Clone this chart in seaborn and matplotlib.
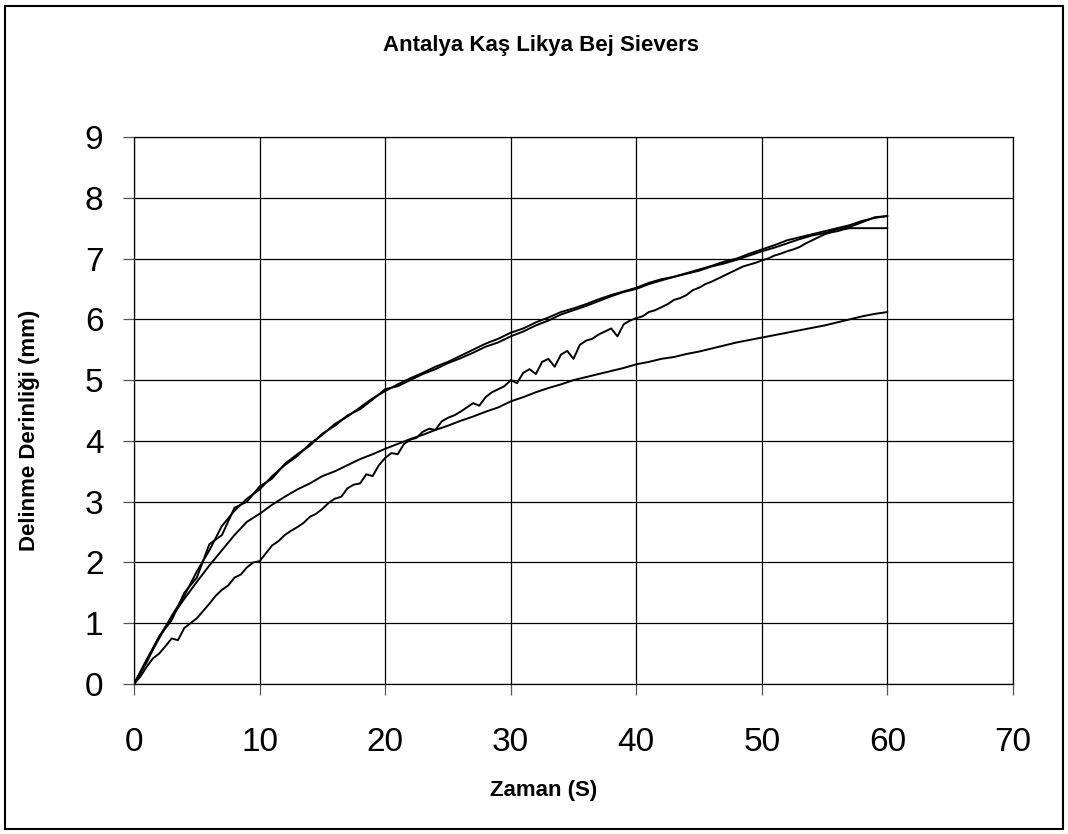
import numpy as np
import pandas as pd
import matplotlib
matplotlib.use("Agg")
import matplotlib.pyplot as plt
import seaborn as sns
from matplotlib.patches import Rectangle

title = "Antalya Kaş Likya Bej Sievers"
x_label = "Zaman (S)"
y_label = "Delinme Derinliği (mm)"
x_ticks = [0, 10, 20, 30, 40, 50, 60, 70]
y_ticks = [0, 1, 2, 3, 4, 5, 6, 7, 8, 9]

# time in seconds, 1 s steps
t_1s = list(range(0, 61))

curve_a = [0.0, 0.38, 0.75, 1.12, 1.45, 1.85, 2.2, 2.6, 2.85, 3.05,
           3.2, 3.42, 3.6, 3.75, 3.95, 4.1, 4.28, 4.4, 4.55, 4.7,
           4.82, 4.93, 5.03, 5.12, 5.22, 5.3, 5.4, 5.5, 5.6, 5.68,
           5.78, 5.85, 5.95, 6.03, 6.12, 6.18, 6.25, 6.33, 6.4, 6.46,
           6.52, 6.6, 6.66, 6.7, 6.76, 6.82, 6.88, 6.95, 7.0, 7.08,
           7.15, 7.22, 7.3, 7.35, 7.4, 7.45, 7.5, 7.55, 7.62, 7.67, 7.7]

curve_b = [0.0, 0.35, 0.78, 1.05, 1.5, 1.75, 2.3, 2.45, 2.9, 3.0,
           3.25, 3.38, 3.62, 3.78, 3.92, 4.12, 4.25, 4.42, 4.52, 4.68,
           4.85, 4.9, 5.0, 5.1, 5.18, 5.28, 5.36, 5.45, 5.55, 5.62,
           5.72, 5.8, 5.9, 5.98, 6.08, 6.15, 6.22, 6.3, 6.38, 6.45,
           6.5, 6.58, 6.64, 6.7, 6.75, 6.8, 6.87, 6.92, 6.98, 7.05,
           7.12, 7.18, 7.25, 7.32, 7.38, 7.42, 7.48, 7.52, 7.6, 7.68, 7.7]

curve_d = [0.0, 0.4, 0.78, 1.1, 1.4, 1.68, 1.95, 2.2, 2.45, 2.67,
           2.8, 2.95, 3.08, 3.2, 3.3, 3.42, 3.5, 3.6, 3.7, 3.78,
           3.87, 3.95, 4.03, 4.1, 4.18, 4.25, 4.33, 4.4, 4.48, 4.55,
           4.65, 4.72, 4.8, 4.87, 4.93, 5.0, 5.05, 5.1, 5.15, 5.2,
           5.26, 5.3, 5.35, 5.38, 5.43, 5.47, 5.52, 5.57, 5.62, 5.66,
           5.7, 5.74, 5.78, 5.82, 5.86, 5.9, 5.95, 6.0, 6.05, 6.09, 6.12]

# jagged curve, 0.5 s steps
t_half = [i * 0.5 for i in range(0, 121)]
curve_c = [0.0, 0.12, 0.28, 0.42, 0.5, 0.62, 0.75, 0.72, 0.92, 1.0,
           1.08, 1.2, 1.32, 1.45, 1.55, 1.62, 1.75, 1.8, 1.92, 2.0,
           2.02, 2.15, 2.28, 2.35, 2.45, 2.52, 2.58, 2.65, 2.75, 2.8,
           2.88, 2.98, 3.05, 3.08, 3.22, 3.28, 3.3, 3.45, 3.42, 3.6,
           3.72, 3.8, 3.78, 3.95, 4.02, 4.05, 4.15, 4.2, 4.18, 4.32,
           4.38, 4.42, 4.48, 4.55, 4.62, 4.58, 4.72, 4.8, 4.85, 4.9,
           5.0, 4.95, 5.12, 5.18, 5.1, 5.3, 5.35, 5.22, 5.42, 5.48,
           5.35, 5.58, 5.65, 5.68, 5.75, 5.8, 5.85, 5.72, 5.92, 5.98,
           6.02, 6.05, 6.12, 6.15, 6.2, 6.25, 6.32, 6.35, 6.4, 6.48,
           6.52, 6.58, 6.62, 6.67, 6.72, 6.77, 6.82, 6.87, 6.9, 6.93,
           6.97, 7.0, 7.05, 7.08, 7.12, 7.15, 7.19, 7.25, 7.3, 7.35,
           7.4, 7.43, 7.45, 7.48, 7.5, 7.5, 7.5, 7.5, 7.5, 7.5, 7.5]

sns.set_theme(style="white")
plt.rcParams['font.family'] = ['Liberation Sans', 'DejaVu Sans']
plt.rcParams['text.color'] = 'black'
plt.rcParams['xtick.labelcolor'] = 'black'
plt.rcParams['ytick.labelcolor'] = 'black'

fig = plt.figure(figsize=(10.68, 8.34), dpi=100)
fig.patch.set_facecolor("white")
ax = fig.add_axes([0.1255, 0.1799, 0.823, 0.6558])

for xs, ys in [(t_1s, curve_a), (t_1s, curve_b), (t_half, curve_c), (t_1s, curve_d)]:
    sns.lineplot(x=xs, y=ys, ax=ax, color="black", linewidth=1.4,
                 estimator=None, sort=False)

ax.set_xlim(0, 70)
ax.set_ylim(0, 9)
ax.set_xticks(x_ticks)
ax.set_yticks(y_ticks)
ax.set_xticklabels([str(v) for v in x_ticks], fontsize=24, color="black")
ax.set_yticklabels([str(v) for v in y_ticks], fontsize=24, color="black")
ax.grid(True, color="black", linewidth=0.9)
ax.set_axisbelow(True)
for s in ax.spines.values():
    s.set_color("black")
    s.set_linewidth(0.9)
ax.tick_params(axis="both", direction="out", length=8, width=0.9,
               color="#555555", bottom=True, left=True)
ax.tick_params(axis="x", pad=23)
ax.tick_params(axis="y", pad=14)
ax.set_xlabel("")
ax.set_ylabel("")

fig.text(0.507, 0.946, title, ha="center", va="center",
         fontsize=16, fontweight="bold", color="black")
fig.text(0.509, 0.0516, x_label, ha="center", va="center",
         fontsize=16, fontweight="bold", color="black")
fig.text(0.028, 0.484, y_label, ha="center", va="center",
         rotation=90, fontsize=16, fontweight="bold", color="black")

fig.patches.append(Rectangle((0.005, 0.006), 0.99, 0.987, transform=fig.transFigure,
                             fill=False, edgecolor="black", linewidth=1.5))

fig.savefig("out.png", dpi=100)
